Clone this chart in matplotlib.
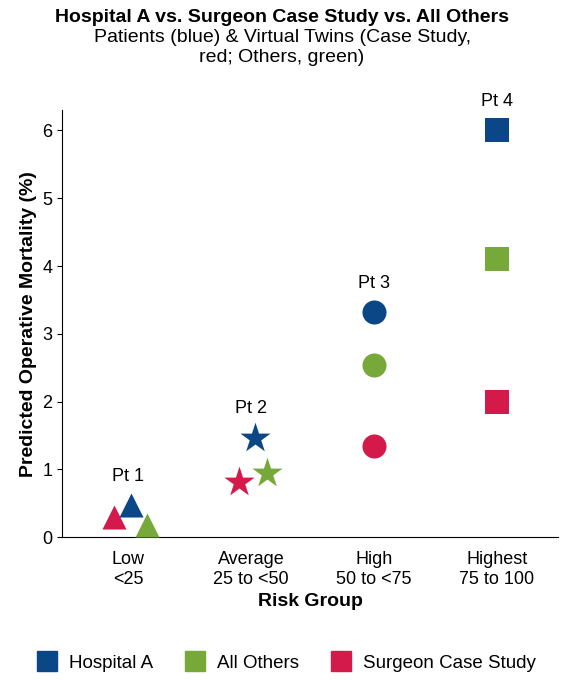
import matplotlib
matplotlib.use("Agg")
from matplotlib import pyplot as plt
from matplotlib.lines import Line2D

plt.rcParams["font.family"] = ["Liberation Sans", "DejaVu Sans"]

groups = ["Low\n<25", "Average\n25 to <50", "High\n50 to <75", "Highest\n75 to 100"]
pt_labels = ["Pt 1", "Pt 2", "Pt 3", "Pt 4"]
markers = ["^", "*", "o", "s"]
hospital_a = [0.47, 1.47, 3.32, 6.0]
all_others = [0.18, 0.94, 2.54, 4.1]
surgeon = [0.30, 0.81, 1.34, 1.99]
x_off_blue = [0.02, 0.03, 0.0, 0.0]
x_off_green = [0.15, 0.13, 0.0, 0.0]
x_off_red = [-0.12, -0.10, 0.0, 0.0]

blue = "#0b4787"
green = "#76a83a"
red = "#d41a4b"

fig = plt.figure(figsize=(5.64, 6.8), dpi=100)
ax = fig.add_axes([0.11, 0.21, 0.88, 0.628])

for i in range(4):
    sz = 520 if markers[i] == "*" else 300
    ax.scatter(i + x_off_red[i], surgeon[i], marker=markers[i], s=sz, color=red, zorder=3, lw=0)
    ax.scatter(i + x_off_green[i], all_others[i], marker=markers[i], s=sz, color=green, zorder=3, lw=0)
    ax.scatter(i + x_off_blue[i], hospital_a[i], marker=markers[i], s=sz, color=blue, zorder=3, lw=0)
    ax.text(i, hospital_a[i] + 0.3, pt_labels[i], ha="center", va="bottom", fontsize=13)

ax.set_xlim(-0.54, 3.5)
ax.set_ylim(0, 6.3)
ax.set_yticks(range(7))
ax.set_xticks(range(4))
ax.set_xticklabels(groups, fontsize=13)
ax.tick_params(axis="y", labelsize=13)
ax.tick_params(axis="x", length=0, pad=10)
ax.spines["top"].set_visible(False)
ax.spines["right"].set_visible(False)
ax.set_xlabel("Risk Group", fontsize=14, fontweight="bold")
ax.set_ylabel("Predicted Operative Mortality (%)", fontsize=14, fontweight="bold")

fig.text(0.5, 0.975, "Hospital A vs. Surgeon Case Study vs. All Others",
         ha="center", va="center", fontsize=14, fontweight="bold")
fig.text(0.5, 0.93, "Patients (blue) & Virtual Twins (Case Study,\nred; Others, green)",
         ha="center", va="center", fontsize=14)

handles = [Line2D([], [], marker="s", ls="", color=c, markersize=14) for c in (blue, green, red)]
fig.legend(handles, ["Hospital A", "All Others", "Surgeon Case Study"], loc="center",
           bbox_to_anchor=(0.5, 0.025), ncol=3, frameon=False, fontsize=13.5,
           handletextpad=0.2, columnspacing=1.2)

fig.savefig("out.png", dpi=100)
